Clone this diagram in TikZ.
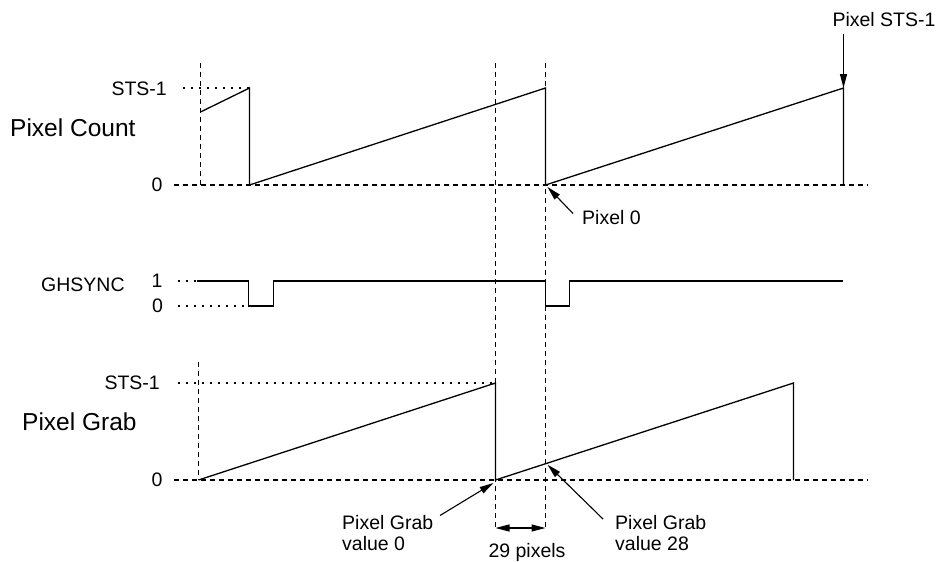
\documentclass[tikz,border=0pt]{standalone}
\usepackage{fontspec}
\setmainfont{Liberation Sans}
\usetikzlibrary{arrows.meta}
\begin{document}
\begin{tikzpicture}[x=1pt,y=-1pt,
  wave/.style={line width=1.3pt, line join=miter},
  dsh/.style={line width=1.1pt, dash pattern=on 5pt off 4pt},
  dotl/.style={line width=1.1pt, dash pattern=on 1.5pt off 6.5pt},
  lbl/.style={font=\fontsize{19.5}{21}\selectfont, inner sep=0pt},
  big/.style={font=\fontsize{24.5}{28}\selectfont, inner sep=0pt},
  arr/.style={line width=1.1pt, -{Triangle[length=14pt,width=7pt]}},
  darr/.style={line width=1.1pt, {Triangle[length=14pt,width=7pt]}-{Triangle[length=14pt,width=7pt]}},
]
\useasboundingbox (0,0) rectangle (943,562);

% ---------- labels ----------
\node[big, anchor=west] (tPC) at (10,128) {Pixel Count};
\node[lbl, anchor=east] (tSTSa) at (167,89) {STS-1};
\node[lbl] (tZa) at (157,185) {0};
\node[lbl, anchor=west] (tGH) at (41,285) {GHSYNC};
\node[lbl] (tOne) at (157,281) {1};
\node[lbl] (tZb) at (157.5,306) {0};
\node[big, anchor=west] (tPG) at (22,422) {Pixel Grab};
\node[lbl, anchor=east] (tSTSb) at (160,383) {STS-1};
\node[lbl] (tZc) at (157,480) {0};
\node[lbl] (tPSTS) at (884,20) {Pixel STS-1};
\node[lbl, anchor=west] (tP0) at (582,217.5) {Pixel 0};
\node[lbl, anchor=west, align=left] (tV0) at (342,533.5) {Pixel Grab\\value 0};
\node[lbl, anchor=west, align=left] (tV28) at (615,533) {Pixel Grab\\value 28};
\node[lbl, anchor=base] (t29) at (527,557) {29 pixels};

% ---------- key points ----------
\coordinate (cA) at (200.5,112);
\coordinate (cB) at (249.5,88);
\coordinate (cC) at (249.5,185);
\coordinate (cD) at (545.5,88);
\coordinate (cE) at (545.5,185);
\coordinate (cF) at (843.5,88);
\coordinate (cG) at (843.5,185);

\coordinate (gA) at (198.5,480);
\coordinate (gB) at (495.5,383);
\coordinate (gC) at (495.5,480);
\coordinate (gD) at (793.5,383);
\coordinate (gE) at (793.5,480);
\coordinate (gX) at (545.5,463.7);

\coordinate (m1) at (495.5,528);
\coordinate (m2) at (545.5,528);

% ---------- dashed guides ----------
\draw[dsh] (174,185) -- (868,185);
\draw[dsh] (174,480) -- (868,480);
\draw[dsh] (200.5,63) -- (200.5,185);
\draw[dsh] (198.5,362) -- (198.5,480);
\draw[dsh] (495.5,63) -- (m1);
\draw[dsh] (545.5,63) -- (m2);

% ---------- dotted guides ----------
\draw[dotl] (183,88) -- (cB);
\draw[dotl] (178,383) -- (gB);
\draw[dotl] (178,281) -- (196,281);
\draw[dotl] (178,306) -- (247,306);

% ---------- waveforms ----------
\draw[wave] (cA) -- (cB) -- (cC) -- (cD) -- (cE) -- (cF) -- (cG);
\draw[wave] (197,281) -- (248.5,281) -- (248.5,306) -- (273.5,306) -- (273.5,281)
  -- (545.5,281) -- (545.5,306) -- (569.5,306) -- (569.5,281) -- (843,281);
\draw[wave] (gA) -- (gB) -- (gC) -- (gD) -- (gE);

% ---------- arrows ----------
\draw[arr] ([yshift=-7pt]tPSTS.south -| cF) -- (cF);
\draw[arr] ([xshift=-9pt,yshift=4pt]tP0.west) -- ([xshift=2pt,yshift=-2pt]cE);
\draw[arr] ([xshift=98pt,yshift=18pt]tV0.west) -- ([xshift=-2pt,yshift=-3pt]gC);
\draw[arr] ([xshift=-12pt,yshift=14pt]tV28.west) -- ([xshift=2pt,yshift=-1pt]gX);
\draw[darr] (m1) -- (m2);
\end{tikzpicture}
\end{document}
